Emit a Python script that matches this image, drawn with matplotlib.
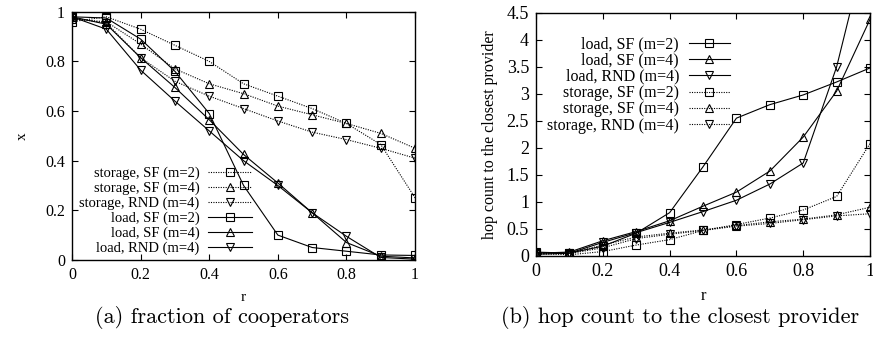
import numpy as np
import matplotlib
matplotlib.use("Agg")
import matplotlib.pyplot as plt

plt.rcParams['font.family'] = ['Liberation Serif', 'DejaVu Serif']
plt.rcParams['mathtext.fontset'] = 'cm'

# r values shared by every series
r = [0.0, 0.1, 0.2, 0.3, 0.4, 0.5, 0.6, 0.7, 0.8, 0.9, 1.0]

# (a) fraction of cooperators
frac_storage_sf2 = [0.96, 0.98, 0.93, 0.865, 0.80, 0.71, 0.66, 0.61, 0.55, 0.465, 0.25]
frac_storage_sf4 = [0.97, 0.96, 0.87, 0.77, 0.71, 0.67, 0.62, 0.585, 0.55, 0.51, 0.45]
frac_storage_rnd4 = [0.975, 0.955, 0.815, 0.72, 0.66, 0.61, 0.56, 0.515, 0.485, 0.45, 0.41]
frac_load_sf2 = [0.98, 0.975, 0.89, 0.76, 0.59, 0.30, 0.10, 0.05, 0.035, 0.02, 0.018]
frac_load_sf4 = [0.98, 0.95, 0.815, 0.695, 0.565, 0.425, 0.31, 0.19, 0.07, 0.015, 0.008]
frac_load_rnd4 = [0.98, 0.93, 0.765, 0.64, 0.52, 0.40, 0.30, 0.19, 0.095, 0.01, 0.003]

# (b) hop count to the closest provider
hop_load_sf2 = [0.07, 0.05, 0.18, 0.42, 0.80, 1.65, 2.55, 2.80, 2.98, 3.22, 3.48]
hop_load_sf4 = [0.05, 0.07, 0.28, 0.45, 0.65, 0.92, 1.18, 1.57, 2.20, 3.05, 4.38]
hop_load_rnd4 = [0.03, 0.05, 0.25, 0.43, 0.62, 0.82, 1.03, 1.33, 1.72, 3.50, 6.0]
hop_storage_sf2 = [0.05, 0.02, 0.08, 0.20, 0.30, 0.47, 0.58, 0.70, 0.85, 1.10, 2.08]
hop_storage_sf4 = [0.05, 0.05, 0.20, 0.35, 0.42, 0.48, 0.56, 0.63, 0.68, 0.76, 0.90]
hop_storage_rnd4 = [0.03, 0.04, 0.15, 0.32, 0.40, 0.47, 0.55, 0.60, 0.67, 0.74, 0.78]

fig = plt.figure(figsize=(8.73, 3.38), dpi=100)
ax1 = fig.add_axes([0.0825, 0.231, 0.393, 0.734])
ax2 = fig.add_axes([0.614, 0.243, 0.3826, 0.719])

def style_axes(ax, size):
    ax.tick_params(direction='in', top=True, right=True, length=4, width=0.8,
                   labelsize=size, pad=5)
    for s in ax.spines.values():
        s.set_linewidth(1.0)

def draw(ax, y, label, marker, ls):
    ax.plot(r, y, color='black', linestyle=ls, linewidth=0.8, marker=marker,
            markersize=5.5, markerfacecolor='none', markeredgecolor='black',
            markeredgewidth=0.8, label=label)

dot = (0, (1, 1.2))

draw(ax1, frac_storage_sf2, 'storage, SF (m=2)', 's', dot)
draw(ax1, frac_storage_sf4, 'storage, SF (m=4)', '^', dot)
draw(ax1, frac_storage_rnd4, 'storage, RND (m=4)', 'v', dot)
draw(ax1, frac_load_sf2, 'load, SF (m=2)', 's', '-')
draw(ax1, frac_load_sf4, 'load, SF (m=4)', '^', '-')
draw(ax1, frac_load_rnd4, 'load, RND (m=4)', 'v', '-')
ax1.set_xlim(0, 1)
ax1.set_ylim(0, 1)
ax1.set_xticks([0, 0.2, 0.4, 0.6, 0.8, 1])
ax1.set_xticklabels(['0', '0.2', '0.4', '0.6', '0.8', '1'])
ax1.set_yticks([0, 0.2, 0.4, 0.6, 0.8, 1])
ax1.set_yticklabels(['0', '0.2', '0.4', '0.6', '0.8', '1'])
ax1.set_xlabel('r', fontsize=11, labelpad=6)
ax1.set_ylabel('x', fontsize=11, labelpad=12)
style_axes(ax1, 11.5)
ax1.legend(loc='lower left', bbox_to_anchor=(0.0, -0.01), frameon=False,
           markerfirst=False, numpoints=1, fontsize=10.5, handlelength=3.0,
           handletextpad=0.6, labelspacing=0.1, borderaxespad=0.3,
           borderpad=0.2)

draw(ax2, hop_load_sf2, 'load, SF (m=2)', 's', '-')
draw(ax2, hop_load_sf4, 'load, SF (m=4)', '^', '-')
draw(ax2, hop_load_rnd4, 'load, RND (m=4)', 'v', '-')
draw(ax2, hop_storage_sf2, 'storage, SF (m=2)', 's', dot)
draw(ax2, hop_storage_sf4, 'storage, SF (m=4)', '^', dot)
draw(ax2, hop_storage_rnd4, 'storage, RND (m=4)', 'v', dot)
ax2.set_xlim(0, 1)
ax2.set_ylim(0, 4.5)
ax2.set_xticks([0, 0.2, 0.4, 0.6, 0.8, 1])
ax2.set_xticklabels(['0', '0.2', '0.4', '0.6', '0.8', '1'])
ax2.set_yticks(np.arange(0, 4.51, 0.5))
ax2.set_yticklabels(['0', '0.5', '1', '1.5', '2', '2.5', '3', '3.5', '4', '4.5'])
ax2.set_xlabel('r', fontsize=12, labelpad=6)
ax2.set_ylabel('hop count to the closest provider', fontsize=11.5, labelpad=6)
style_axes(ax2, 13)
ax2.legend(loc='upper left', bbox_to_anchor=(0.0, 0.95), frameon=False,
           markerfirst=False, numpoints=1, fontsize=11.5, handlelength=2.6,
           handletextpad=0.6, labelspacing=0.02, borderaxespad=0.5,
           borderpad=0.2)

fig.text(0.254, 0.06, '(a) fraction of cooperators', ha='center', va='center',
         fontsize=16, family='cmr10')
fig.text(0.779, 0.06, '(b) hop count to the closest provider', ha='center',
         va='center', fontsize=16, family='cmr10')

fig.savefig('out.png', dpi=100)
